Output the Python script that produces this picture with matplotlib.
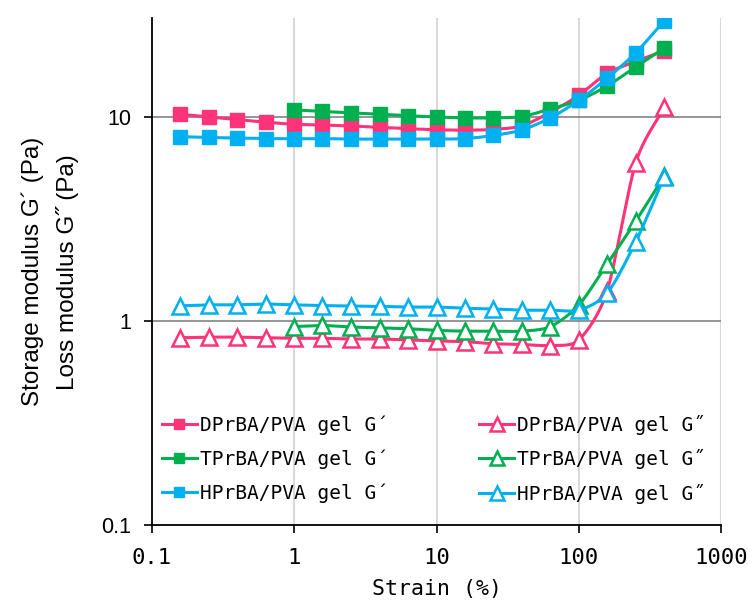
import numpy as np
import matplotlib
matplotlib.use('Agg')
import matplotlib.pyplot as plt

# strain (%) sweep points
strain_all = [0.158, 0.251, 0.398, 0.631, 1.0, 1.58, 2.51, 3.98, 6.31, 10.0,
              15.8, 25.1, 39.8, 63.1, 100.0, 158.0, 251.0, 398.0]
strain_t = strain_all[4:]

# storage modulus G' (Pa)
d_gp = [10.27, 9.95, 9.67, 9.38, 9.17, 9.09, 8.99, 8.85, 8.72, 8.62,
        8.58, 8.65, 9.0, 10.5, 12.7, 16.3, 18.6, 21.0]
t_gp = [10.78, 10.59, 10.43, 10.27, 10.1, 9.95, 9.85, 9.85, 10.0, 10.9,
        12.0, 14.1, 17.5, 21.6]
h_gp = [7.97, 7.9, 7.85, 7.8, 7.8, 7.8, 7.76, 7.76, 7.76, 7.76,
        7.8, 8.08, 8.6, 9.85, 12.0, 15.4, 20.5, 29.4]

# loss modulus G'' (Pa)
d_gpp = [0.828, 0.834, 0.834, 0.828, 0.823, 0.823, 0.817, 0.817, 0.808, 0.799,
         0.793, 0.774, 0.768, 0.759, 0.808, 1.40, 5.95, 11.1]
t_gpp = [0.94, 0.951, 0.935, 0.926, 0.917, 0.90, 0.892, 0.892, 0.892, 0.938,
         1.197, 1.90, 3.08, 5.11]
h_gpp = [1.186, 1.20, 1.20, 1.21, 1.20, 1.19, 1.185, 1.18, 1.17, 1.17,
         1.155, 1.145, 1.13, 1.13, 1.13, 1.365, 2.44, 5.06]

labels = ['DPrBA/PVA gel G\u00b4', 'TPrBA/PVA gel G\u00b4', 'HPrBA/PVA gel G\u00b4',
          'DPrBA/PVA gel G\u02dd', 'TPrBA/PVA gel G\u02dd', 'HPrBA/PVA gel G\u02dd']
pink = '#FF3377'
green = '#00B050'
blue = '#00B0F0'
mono = ['DejaVu Sans Mono', 'DejaVu Sans']


def smooth(x, y, n=16):
    # catmull-rom style smoothing in log-log space (like excel's smoothed line)
    lx = np.log10(np.asarray(x, float))
    ly = np.log10(np.asarray(y, float))
    px = np.concatenate([[2 * lx[0] - lx[1]], lx, [2 * lx[-1] - lx[-2]]])
    py = np.concatenate([[2 * ly[0] - ly[1]], ly, [2 * ly[-1] - ly[-2]]])
    outx, outy = [], []
    t = np.linspace(0, 1, n, endpoint=False)
    for i in range(1, len(px) - 2):
        for arr, out in ((px, outx), (py, outy)):
            p0, p1, p2, p3 = arr[i - 1], arr[i], arr[i + 1], arr[i + 2]
            m1 = (p2 - p0) / 2 * 0.8
            m2 = (p3 - p1) / 2 * 0.8
            h00 = 2 * t**3 - 3 * t**2 + 1
            h10 = t**3 - 2 * t**2 + t
            h01 = -2 * t**3 + 3 * t**2
            h11 = t**3 - t**2
            out.extend(h00 * p1 + h10 * m1 + h01 * p2 + h11 * m2)
    outx.append(lx[-1])
    outy.append(ly[-1])
    return 10 ** np.array(outx), 10 ** np.array(outy)


fig = plt.figure(figsize=(7.52, 6.04), dpi=100)
ax = fig.add_axes([0.202, 0.13, 0.757, 0.84])

series = [
    (strain_all, d_gp, pink, 's', labels[0]),
    (strain_t, t_gp, green, 's', labels[1]),
    (strain_all, h_gp, blue, 's', labels[2]),
    (strain_all, d_gpp, pink, '^', labels[3]),
    (strain_t, t_gpp, green, '^', labels[4]),
    (strain_all, h_gpp, blue, '^', labels[5]),
]
handles = []
for i, (x, y, c, m, lab) in enumerate(series):
    sx, sy = smooth(x, y)
    ax.plot(sx, sy, color=c, lw=2.2, zorder=3 + i)
    if m == 's':
        ax.plot(x, y, ls='none', marker='s', ms=10, mfc=c, mec=c, zorder=3 + i)
        h, = ax.plot([], [], color=c, lw=2.2, marker='s', ms=7.5, mfc=c, mec=c, label=lab)
    else:
        ax.plot(x, y, ls='none', marker='^', ms=11, mfc='white', mec=c, mew=1.8, zorder=3 + i)
        h, = ax.plot([], [], color=c, lw=2.2, marker='^', ms=9.5, mfc='white', mec=c, mew=1.8, label=lab)
    handles.append(h)

ax.set_xscale('log')
ax.set_yscale('log')
ax.set_xlim(0.1, 1000)
ax.set_ylim(0.1, 30.3)
ax.set_xticks([0.1, 1, 10, 100, 1000])
ax.set_xticklabels(['0.1', '1', '10', '100', '1000'])
ax.set_yticks([0.1, 1, 10])
ax.set_yticklabels(['0.1', '1', '10'])
ax.minorticks_off()

for v in [1, 10, 100, 1000]:
    ax.axvline(v, color='#d9d9d9', lw=1.5, zorder=1)
for v in [1, 10]:
    ax.axhline(v, color='#8c8c8c', lw=1.3, zorder=1)

ax.spines['top'].set_visible(False)
ax.spines['right'].set_visible(False)
ax.spines['left'].set_linewidth(1.3)
ax.spines['bottom'].set_linewidth(1.3)
ax.tick_params(direction='out', length=6, width=1.2)
ax.tick_params(axis='x', pad=10)
ax.tick_params(axis='y', pad=9)
for lb in ax.get_xticklabels():
    lb.set_family(mono)
    lb.set_fontsize(16)
for lb in ax.get_yticklabels():
    lb.set_family('Liberation Sans')
    lb.set_fontsize(15.5)

ax.set_xlabel('Strain (%)', fontsize=15.5, family=mono, labelpad=8)
ax.set_ylabel('Storage modulus G\u00b4 (Pa)\nLoss modulus G\u02dd (Pa)', fontsize=17.5,
              family=['Liberation Sans', 'DejaVu Sans'], labelpad=16, linespacing=1.65)

ax.legend(handles=handles, ncol=2, loc='lower left', bbox_to_anchor=(0.0175, 0.043),
          borderpad=0, borderaxespad=0, frameon=False, prop={'family': mono, 'size': 14},
          handlelength=1.8, handletextpad=0.15, columnspacing=4.7, labelspacing=0.74)

fig.savefig('out.png', dpi=100)
